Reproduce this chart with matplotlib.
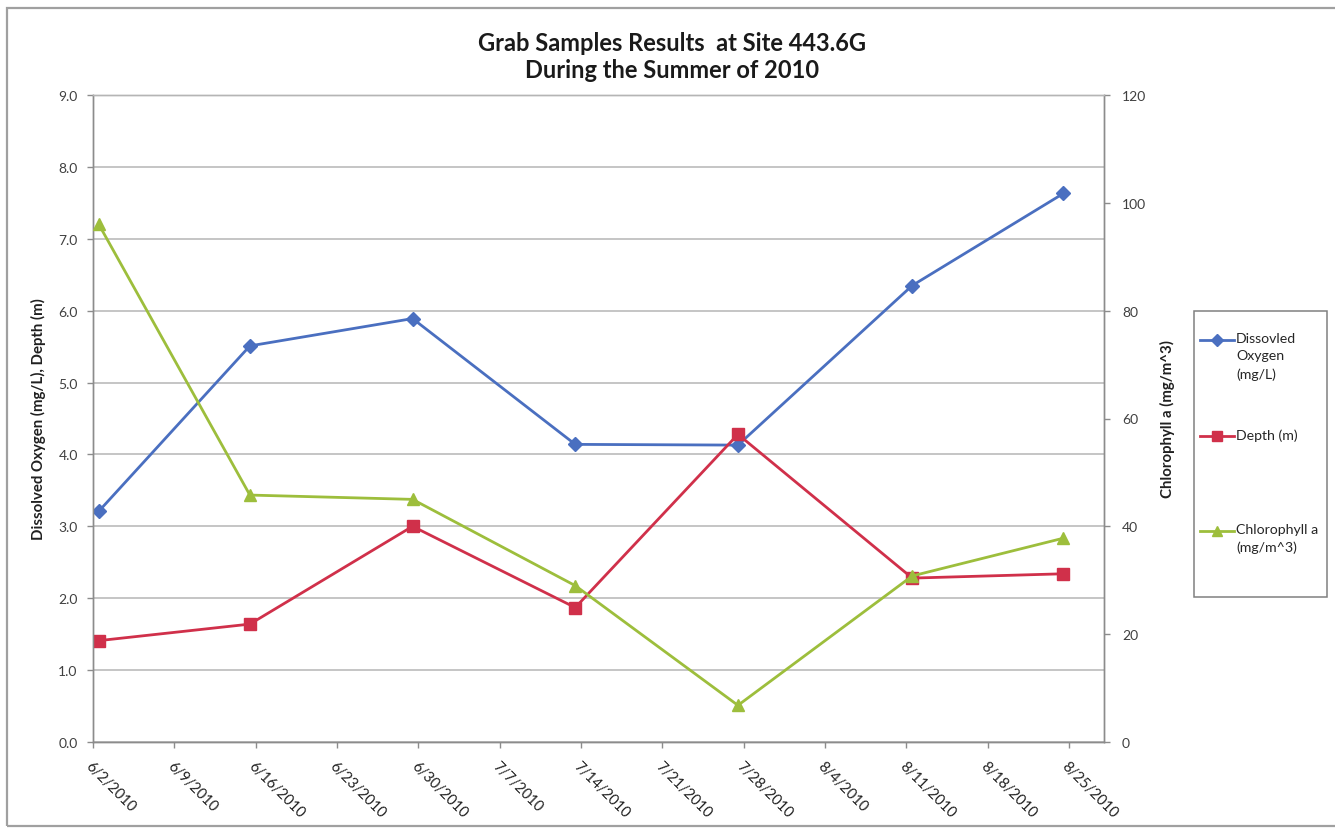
import matplotlib
matplotlib.use("Agg")
import matplotlib.pyplot as plt
from matplotlib.lines import Line2D
from matplotlib.patches import Rectangle
import matplotlib.transforms as mtransforms
import pandas as pd

plt.rcParams['font.family'] = ['Lato', 'DejaVu Sans']

# Sampling dates and measured values
sample_dates = ['2010-06-02', '2010-06-15', '2010-06-29', '2010-07-13',
                '2010-07-27', '2010-08-11', '2010-08-24']
dissolved_oxygen = [3.21, 5.51, 5.89, 4.14, 4.13, 6.35, 7.63]   # mg/L
depth = [1.41, 1.64, 3.00, 1.87, 4.28, 2.28, 2.34]              # m
chlorophyll_a = [96.0, 45.8, 45.0, 29.0, 6.8, 30.8, 37.8]       # mg/m^3

axis_start = '2010-06-02'
axis_end = '2010-08-28'
tick_start = '2010-06-02'
tick_end = '2010-08-25'

left_ticks = [0.0, 1.0, 2.0, 3.0, 4.0, 5.0, 6.0, 7.0, 8.0, 9.0]
right_ticks = [0, 20, 40, 60, 80, 100, 120]

title_text = "Grab Samples Results  at Site 443.6G\nDuring the Summer of 2010"
left_label = "Dissolved Oxygen (mg/L), Depth (m)"
right_label = "Chlorophyll a (mg/m^3)"
legend_labels = ["Dissovled\nOxygen\n(mg/L)", "Depth (m)", "Chlorophyll a\n(mg/m^3)"]

c_do = '#4A6FC0'
c_depth = '#D0304A'
c_chl = '#9DBE3C'
grid_c = '#B5B5B5'
axis_c = '#8C8C8C'
text_c = '#404040'

W, H = 1335, 829
fig = plt.figure(figsize=(W / 100, H / 100), dpi=100)
fig.patch.set_facecolor('white')

# outer chart frame
fig.add_artist(Rectangle((7 / W, 2 / H), 1.0, (H - 10.5) / H, transform=fig.transFigure,
                         fill=False, ec='#A0A0A0', lw=1.6))

ax_l, ax_r, ax_t, ax_b = 93, 1104, 96, 743
ax = fig.add_axes([ax_l / W, 1 - ax_b / H, (ax_r - ax_l) / W, (ax_b - ax_t) / H])
ax2 = ax.twinx()

# daily samples are centred within their date band
x = pd.to_datetime(sample_dates) + pd.Timedelta(hours=12)

ax.plot(x, dissolved_oxygen, color=c_do, lw=2.0, marker='D', ms=7,
        mfc=c_do, mec=c_do, zorder=3)
ax.plot(x, depth, color=c_depth, lw=2.0, marker='s', ms=8.5,
        mfc=c_depth, mec=c_depth, zorder=4)
ax2.plot(x, chlorophyll_a, color=c_chl, lw=2.0, marker='^', ms=8.5,
         mfc=c_chl, mec=c_chl, zorder=3)

ax.set_xlim(pd.Timestamp(axis_start), pd.Timestamp(axis_end))
ax.set_ylim(0, 9)
ax2.set_ylim(0, 120)

ticks = pd.date_range(tick_start, tick_end, freq='7D')
ax.set_xticks(ticks)
ax.set_xticklabels([f"{d.month}/{d.day}/{d.year}" for d in ticks],
                   rotation=-45, ha='left', va='top', rotation_mode='anchor',
                   fontsize=10.5, color='#202020')
# nudge the slanted date labels so they start right below their tick
shift = mtransforms.ScaledTranslation(6 / 100, 0, fig.dpi_scale_trans)
for lbl in ax.get_xticklabels():
    lbl.set_transform(lbl.get_transform() + shift)

ax.set_yticks(left_ticks)
ax.set_yticklabels([f"{v:.1f}" for v in left_ticks], fontsize=10, color=text_c)
ax2.set_yticks(right_ticks)
ax2.set_yticklabels([str(v) for v in right_ticks], fontsize=10, color=text_c)

ax.grid(axis='y', color=grid_c, lw=1.1)
ax.grid(axis='x', visible=False)
ax.set_axisbelow(True)

for a in (ax, ax2):
    a.spines['top'].set_color(grid_c)
    a.spines['left'].set_color(axis_c)
    a.spines['right'].set_color(axis_c)
    a.spines['bottom'].set_color(axis_c)
    for s in a.spines.values():
        s.set_linewidth(1.0)

ax.tick_params(axis='x', direction='out', length=4, width=1, color=axis_c, pad=8)
ax.tick_params(axis='y', direction='out', length=4, width=1, color=axis_c, pad=7)
ax2.tick_params(axis='y', direction='out', length=4, width=1, color=axis_c, pad=9)

ax.set_ylabel(left_label, fontsize=10.8, fontweight='bold', color='#202020', labelpad=9)
ax2.set_ylabel(right_label, fontsize=10.8, fontweight='bold', color='#202020', labelpad=10)

fig.text(672 / W, 1 - 57 / H, title_text, ha='center', va='center',
         fontsize=17, fontweight='bold', color='#1a1a1a', linespacing=1.2)

# legend box with handles aligned to the first text line of each entry
fig.add_artist(Rectangle((1194 / W, 1 - 598 / H), (1327 - 1194) / W, (598 - 312) / H,
                         transform=fig.transFigure, fill=False, ec='#808080', lw=1.1))
entries = [(c_do, 'D', 6, 341), (c_depth, 's', 7, 437), (c_chl, '^', 7, 532)]
for (col, mk, ms, ypix), lab in zip(entries, legend_labels):
    yf = 1 - ypix / H
    fig.add_artist(Line2D([1200 / W, 1234 / W], [yf, yf], transform=fig.transFigure,
                          color=col, lw=2.0))
    fig.add_artist(Line2D([1217 / W], [yf], transform=fig.transFigure, color=col,
                          marker=mk, ms=ms, mfc=col, mec=col, lw=0))
    fig.text(1236 / W, yf + 8 / H, lab, ha='left', va='top', fontsize=10.2,
             color='#262626', linespacing=1.55)

fig.savefig('out.png', dpi=100, facecolor='white')
